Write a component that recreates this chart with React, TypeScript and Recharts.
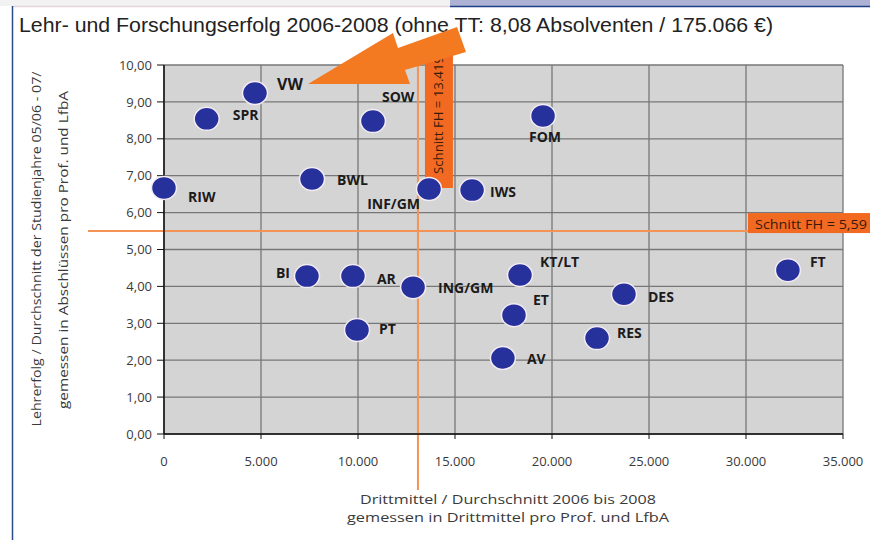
import React from 'react';
import { ScatterChart, Scatter, XAxis, YAxis, CartesianGrid, ReferenceLine, ReferenceDot } from 'recharts';

// ---- data ----
const names = ['RIW', 'SPR', 'VW', 'SOW', 'BWL', 'INF/GM', 'IWS', 'FOM', 'BI', 'AR', 'ING/GM', 'KT/LT', 'ET', 'DES', 'RES', 'AV', 'PT', 'FT'];
const drittmittel = [0, 2200, 4690, 10770, 7630, 13660, 15880, 19540, 7370, 9740, 12840, 18350, 18040, 23710, 22320, 17470, 9950, 32160];
const lehrerfolg = [6.67, 8.54, 9.24, 8.48, 6.91, 6.64, 6.61, 8.62, 4.28, 4.28, 3.98, 4.31, 3.22, 3.79, 2.6, 2.06, 2.82, 4.44];
const xTicks = [0, 5000, 10000, 15000, 20000, 25000, 30000, 35000];
const yTicks = [0, 1, 2, 3, 4, 5, 6, 7, 8, 9, 10];
const avgX = 13090;
const avgXLabel = 'Schnitt FH = 13.419';
const avgY = 5.5;
const avgYLabel = 'Schnitt FH = 5,59';
const title = 'Lehr- und Forschungserfolg 2006-2008 (ohne TT: 8,08 Absolventen / 175.066 €)';
const xLabel = ['Drittmittel / Durchschnitt 2006 bis 2008', 'gemessen in Drittmittel pro Prof. und LfbA'];
const yLabel = ['Lehrerfolg / Durchschnitt der Studienjahre 05/06 - 07/', 'gemessen in Abschlüssen pro Prof. und LfbA'];
const highlighted = 'VW';

const data = names.map((name, i) => ({ name, x: drittmittel[i], y: lehrerfolg[i] }));

// ---- label placement (layout only) ----
const labelPlacement: Record<string, { dx: number; dy: number; anchor: 'start' | 'middle' | 'end' }> = {
  RIW: { dx: 24, dy: 9, anchor: 'start' },
  SPR: { dx: 26, dy: -4, anchor: 'start' },
  VW: { dx: 22, dy: -9, anchor: 'start' },
  SOW: { dx: 9, dy: -25, anchor: 'start' },
  BWL: { dx: 25, dy: 0, anchor: 'start' },
  'INF/GM': { dx: -9, dy: 15, anchor: 'end' },
  IWS: { dx: 18, dy: 1, anchor: 'start' },
  FOM: { dx: 2, dy: 21, anchor: 'middle' },
  BI: { dx: -17, dy: -4, anchor: 'end' },
  AR: { dx: 24, dy: 2, anchor: 'start' },
  'ING/GM': { dx: 25, dy: 0, anchor: 'start' },
  'KT/LT': { dx: 20, dy: -13, anchor: 'start' },
  ET: { dx: 19, dy: -16, anchor: 'start' },
  DES: { dx: 24, dy: 2, anchor: 'start' },
  RES: { dx: 20, dy: -6, anchor: 'start' },
  AV: { dx: 24, dy: 1, anchor: 'start' },
  PT: { dx: 22, dy: -1, anchor: 'start' },
  FT: { dx: 22, dy: -9, anchor: 'start' },
};

const FONT = '"Open Sans", "DejaVu Sans", sans-serif';
const ORANGE = '#f26a22';
const LINE_ORANGE = '#f39356';

const fmtX = (v: number) => (v === 0 ? '0' : v.toLocaleString('de-DE'));
const fmtY = (v: number) => v.toFixed(2).replace('.', ',');

const PointShape = (props: any) => {
  const { cx, cy, payload } = props;
  const p = labelPlacement[payload.name] || { dx: 20, dy: 0, anchor: 'start' };
  const big = payload.name === highlighted;
  return (
    <g>
      <ellipse cx={cx} cy={cy} rx={12.5} ry={11.5} fill="#27319b" stroke="#f4ecf4" strokeWidth={1.5} />
      <text
        x={cx + p.dx}
        y={cy + p.dy}
        textAnchor={p.anchor}
        dominantBaseline="central"
        fontSize={big ? 16 : 14}
        fontWeight={700}
        fill="#1b1b1b"
        fontFamily={FONT}
      >
        {payload.name}
      </text>
    </g>
  );
};

const VerticalAvgShape = (props: any) => {
  const { x1, y1, y2 } = props;
  const top = Math.min(y1, y2);
  const bottom = Math.max(y1, y2);
  return (
    <g>
      <line x1={x1} x2={x1} y1={top - 13} y2={bottom + 56} stroke={LINE_ORANGE} strokeWidth={2} />
      <rect x={x1 + 7} y={top - 20} width={28} height={143} fill={ORANGE} />
      <text
        transform={`translate(${x1 + 21}, ${top + 109}) rotate(-90)`}
        textAnchor="start"
        dominantBaseline="central"
        fontSize={12}
        textLength={118}
        lengthAdjust="spacingAndGlyphs"
        fill="#3a1a0a"
        fontFamily={FONT}
      >
        {avgXLabel}
      </text>
    </g>
  );
};

const HorizontalAvgShape = (props: any) => {
  const { x1, x2, y1 } = props;
  const left = Math.min(x1, x2);
  const right = Math.max(x1, x2);
  return (
    <g>
      <line x1={left - 76} x2={right + 27} y1={y1} y2={y1} stroke={LINE_ORANGE} strokeWidth={2} />
      <rect x={right - 95} y={y1 - 18} width={125} height={20} fill={ORANGE} />
      <text
        x={right - 88}
        y={y1 - 7}
        dominantBaseline="central"
        fontSize={13}
        textLength={112}
        lengthAdjust="spacingAndGlyphs"
        fill="#3a1a0a"
        fontFamily={FONT}
      >
        {avgYLabel}
      </text>
    </g>
  );
};

const ArrowShape = (props: any) => {
  const { cx, cy } = props;
  const pts = [
    [53, -9],
    [138, -60],
    [143, -45],
    [202, -66],
    [211, -41],
    [150, -23],
    [155, -9],
  ]
    .map(([dx, dy]) => `${cx + dx},${cy + dy}`)
    .join(' ');
  return <polygon points={pts} fill="#f47a21" />;
};

export default function App() {
  return (
    <div style={{ position: 'absolute', left: 0, top: 0, width: 870, height: 540, background: '#fff', overflow: 'hidden' }}>
      <svg width={870} height={540} style={{ position: 'absolute', left: 0, top: 0 }}>
        <rect x={450} y={0} width={420} height={6} fill="#adb2d4" />
        <rect x={0} y={0} width={450} height={6} fill="#f2f2f2" />
        <line x1={12} x2={450} y1={6.5} y2={6.5} stroke="#e6d3dc" strokeWidth={1.5} />
        <line x1={450} x2={870} y1={6.5} y2={6.5} stroke="#1f3f86" strokeWidth={1.5} />
        <line x1={12.5} x2={12.5} y1={6} y2={540} stroke="#2b4a8c" strokeWidth={1.5} />
        <text
          x={19}
          y={32}
          fontSize={19.5}
          textLength={754}
          lengthAdjust="spacingAndGlyphs"
          fill="#222"
          fontFamily='"Liberation Sans", Arial, sans-serif'
        >
          {title}
        </text>
        <text
          transform="translate(36,249) rotate(-90)"
          textAnchor="middle"
          dominantBaseline="central"
          fontSize={13}
          textLength={355}
          lengthAdjust="spacingAndGlyphs"
          fill="#3a3a3a"
          fontFamily={FONT}
        >
          {yLabel[0]}
        </text>
        <text
          transform="translate(63,250) rotate(-90)"
          textAnchor="middle"
          dominantBaseline="central"
          fontSize={13}
          textLength={318}
          lengthAdjust="spacingAndGlyphs"
          fill="#3a3a3a"
          fontFamily={FONT}
        >
          {yLabel[1]}
        </text>
        <text
          x={508}
          y={499}
          textAnchor="middle"
          dominantBaseline="central"
          fontSize={13.5}
          textLength={296}
          lengthAdjust="spacingAndGlyphs"
          fill="#3a3a3a"
          fontFamily={FONT}
        >
          {xLabel[0]}
        </text>
        <text
          x={508}
          y={517}
          textAnchor="middle"
          dominantBaseline="central"
          fontSize={13.5}
          textLength={322}
          lengthAdjust="spacingAndGlyphs"
          fill="#3a3a3a"
          fontFamily={FONT}
        >
          {xLabel[1]}
        </text>
      </svg>
      <div style={{ position: 'absolute', left: 0, top: 0 }}>
        <ScatterChart width={870} height={540} margin={{ top: 65, right: 27, bottom: 66, left: 104 }}>
          <CartesianGrid stroke="#777" strokeWidth={1.3} fill="#d4d4d4" fillOpacity={1} />
          <XAxis
            type="number"
            dataKey="x"
            domain={[0, 35000]}
            ticks={xTicks}
            interval={0}
            tickFormatter={fmtX}
            height={40}
            axisLine={{ stroke: '#111', strokeWidth: 1.5 }}
            tickLine={{ stroke: '#111' }}
            tickSize={5}
            tickMargin={18}
            tick={{ fontSize: 13, fill: '#3a3a3a', fontFamily: FONT }}
          />
          <YAxis
            type="number"
            dataKey="y"
            domain={[0, 10]}
            ticks={yTicks}
            interval={0}
            tickFormatter={fmtY}
            width={60}
            axisLine={{ stroke: '#111', strokeWidth: 1.5 }}
            tickLine={{ stroke: '#111' }}
            tickSize={7}
            tickMargin={5}
            tick={{ fontSize: 13, fill: '#3a3a3a', fontFamily: FONT }}
          />
          <Scatter data={data} shape={PointShape} isAnimationActive={false} />
          <ReferenceLine y={avgY} shape={HorizontalAvgShape} ifOverflow="visible" />
          <ReferenceLine x={avgX} shape={VerticalAvgShape} ifOverflow="visible" />
          <ReferenceDot x={drittmittel[2]} y={lehrerfolg[2]} shape={ArrowShape} ifOverflow="visible" />
        </ScatterChart>
      </div>
    </div>
  );
}
